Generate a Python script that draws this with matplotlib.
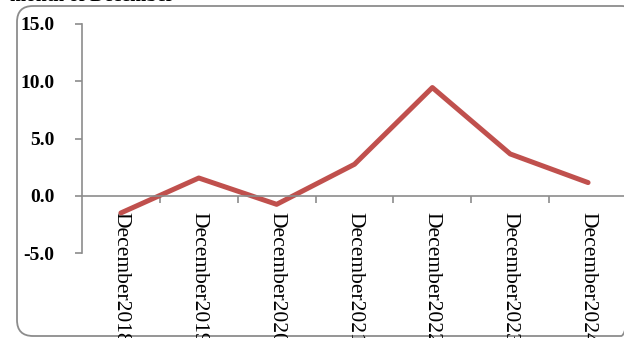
import matplotlib.pyplot as plt
from matplotlib.patches import FancyBboxPatch

categories = ["December2018", "December2019", "December2020", "December2021",
              "December2022", "December2023", "December2024"]
values = [-1.5, 1.55, -0.75, 2.75, 9.45, 3.65, 1.15]
yticks = [-5.0, 0.0, 5.0, 10.0, 15.0]

W, H = 624, 338
fig = plt.figure(figsize=(W / 100, H / 100), dpi=100)

serif = ["Liberation Serif", "DejaVu Serif"]

# background axes in pixel units for the rounded frame
bg = fig.add_axes([0, 0, 1, 1])
bg.set_xlim(0, W)
bg.set_ylim(H, 0)
bg.axis("off")
frame = FancyBboxPatch((17, 6), 620, 330, boxstyle="round,pad=0,rounding_size=16",
                       fill=False, edgecolor="#8c8c8c", linewidth=1.3)
bg.add_patch(frame)

# title, mostly above the visible area
fig.text(10 / W, 1 - 1 / H, "month of December", fontsize=14, fontweight="bold",
         family=serif, va="baseline", ha="left")

ax = fig.add_axes([82 / W, 1 - 253 / H, 545 / W, 229 / H])
x = list(range(len(categories)))
ax.plot(x, values, color="#c0504d", linewidth=3.6, solid_capstyle="round",
        solid_joinstyle="round", clip_on=False)

ax.set_xlim(-0.5, len(categories) - 0.5)
ax.set_ylim(-5, 15)

for s in ["top", "right"]:
    ax.spines[s].set_visible(False)
ax.spines["left"].set_color("#8c8c8c")
ax.spines["bottom"].set_color("#8c8c8c")
ax.spines["bottom"].set_position(("data", 0))
ax.spines["left"].set_linewidth(1.2)
ax.spines["bottom"].set_linewidth(1.2)

ax.tick_params(axis="y", which="major", length=5, width=1.2, color="#8c8c8c",
               pad=15)
ax.tick_params(axis="x", which="major", direction="out", length=5, width=1.2,
               color="#8c8c8c")
ax.tick_params(axis="x", which="minor", length=0, pad=12)

ax.set_yticks(yticks)
ax.set_yticklabels([f"{v:.1f}" for v in yticks], fontsize=14, fontweight="bold",
                   family=serif)

# boundary ticks as major, category labels as minor
ax.set_xticks([i + 0.5 for i in x[:-1]])
ax.set_xticklabels([])
ax.set_xticks(x, minor=True)
ax.set_xticklabels(categories, minor=True, rotation=-90, fontsize=15.5,
                   family=serif, va="top", ha="center")
ax.patch.set_alpha(0)

fig.savefig("out.png", dpi=100)
